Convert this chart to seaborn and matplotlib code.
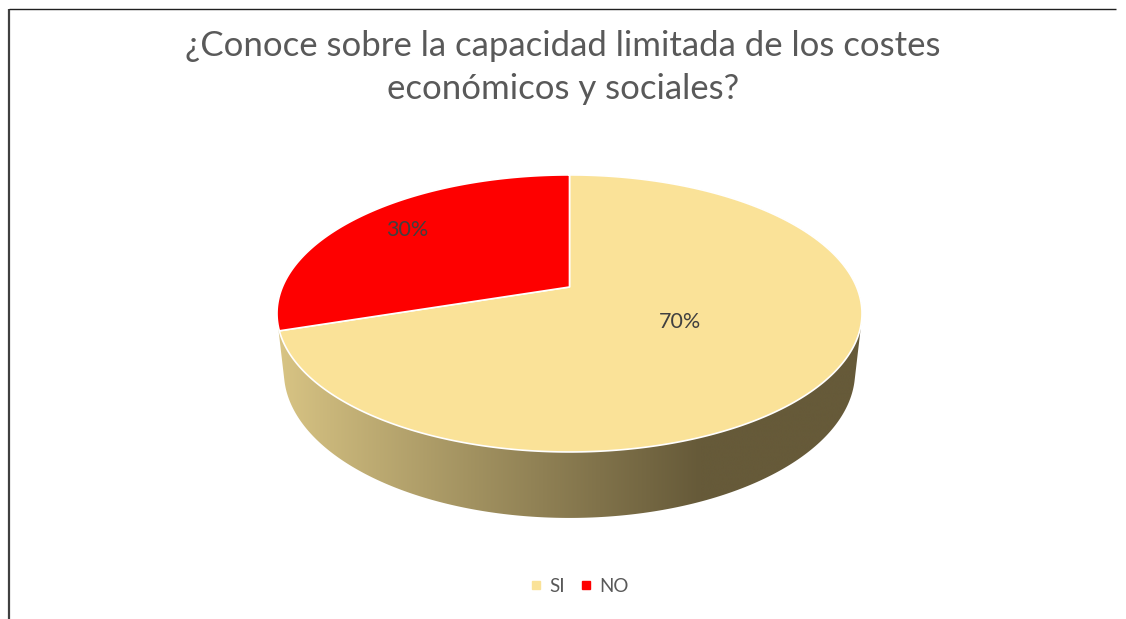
import numpy as np
import matplotlib
matplotlib.use("Agg")
import matplotlib.pyplot as plt
import seaborn as sns
from matplotlib.patches import Polygon
from matplotlib.lines import Line2D

# ---- data ----
categories = ["SI", "NO"]
values = [70, 30]
label_text = ["70%", "30%"]
title_lines = ["¿Conoce sobre la capacidad limitada de los costes",
               "económicos y sociales?"]

# ---- style ----
top_colors = ["#FAE298", "#FE0000"]
side_light = np.array([216, 196, 132]) / 255
side_dark = np.array([102, 90, 57]) / 255
text_gray = "#595959"

sns.set_theme(style="white")
plt.rcParams["font.family"] = ["Lato", "DejaVu Sans"]

W, H = 1126, 619
fig = plt.figure(figsize=(W / 100, H / 100), dpi=100)
ax = fig.add_axes([0, 0, 1, 1])
ax.set_xlim(0, W)
ax.set_ylim(H, 0)
ax.set_aspect("auto")
ax.axis("off")

# ---- perspective camera for the 3D pie ----
cx, cy = 569.5, 287.0
phi = np.deg2rad(27.7)
Ldist = 4.636
Fcam = 1331.0
thick = 0.231


def proj(X, Y, Z):
    depth = Ldist + Y * np.cos(phi) - Z * np.sin(phi)
    xs = cx + Fcam * X / depth
    ys = cy - Fcam * (Y * np.sin(phi) + Z * np.cos(phi)) / depth
    return xs, ys


t = np.linspace(0, 2 * np.pi, 720)
tx, ty = proj(np.cos(t), np.sin(t), 0.0)
bx, by = proj(np.cos(t), np.sin(t), -thick)


def hull(points):
    pts = sorted(map(tuple, points))

    def cross(o, a, b):
        return (a[0] - o[0]) * (b[1] - o[1]) - (a[1] - o[1]) * (b[0] - o[0])
    lower, upper = [], []
    for p in pts:
        while len(lower) >= 2 and cross(lower[-2], lower[-1], p) <= 0:
            lower.pop()
        lower.append(p)
    for p in reversed(pts):
        while len(upper) >= 2 and cross(upper[-2], upper[-1], p) <= 0:
            upper.pop()
        upper.append(p)
    return np.array(lower[:-1] + upper[:-1])


allpts = np.vstack([np.column_stack([tx, ty]), np.column_stack([bx, by])])
hp = hull(allpts)
side_patch = Polygon(hp, closed=True, facecolor="none", edgecolor="none")
ax.add_patch(side_patch)

x0, x1 = hp[:, 0].min(), hp[:, 0].max()
y0, y1 = hp[:, 1].min(), hp[:, 1].max()
gx = np.linspace(x0, x1, 600)
frac = np.clip((gx - 280) / (700 - 280), 0, 1)
frac = frac ** 0.95
grad = side_light[None, :] * (1 - frac[:, None]) + side_dark[None, :] * frac[:, None]
img = ax.imshow(grad[None, :, :], extent=(x0, x1, y1, y0), aspect="auto",
                interpolation="bilinear", zorder=1)
img.set_clip_path(side_patch)
ax.set_xlim(0, W)
ax.set_ylim(H, 0)

# ---- top face slices (clockwise from 12 o'clock) ----
total = float(sum(values))
start = 90.0
label_r = [0.45, 0.76]
for i, v in enumerate(values):
    sweep = 360.0 * v / total
    a = np.deg2rad(np.linspace(start, start - sweep, 400))
    sx, sy = proj(np.cos(a), np.sin(a), 0.0)
    ox, oy = proj(0.0, 0.0, 0.0)
    poly = np.column_stack([np.r_[ox, sx], np.r_[oy, sy]])
    ax.add_patch(Polygon(poly, closed=True, facecolor=top_colors[i],
                         edgecolor="white", linewidth=1.2, zorder=3,
                         joinstyle="round"))
    mid = np.deg2rad(start - sweep / 2)
    lx, ly = proj(label_r[i] * np.cos(mid), label_r[i] * np.sin(mid), 0.0)
    ax.text(lx, ly - 2, label_text[i], ha="center", va="center",
            fontsize=15.5, color="#404040", zorder=5)
    start -= sweep

# ---- title ----
ax.text(563, 46, title_lines[0], ha="center", va="center", fontsize=25,
        color=text_gray)
ax.text(563, 89, title_lines[1], ha="center", va="center", fontsize=25,
        color=text_gray)

# ---- legend ----
handles = [Line2D([], [], marker="s", linestyle="none", markersize=6,
                  markerfacecolor=c, markeredgecolor=c) for c in top_colors]
leg = ax.legend(handles, categories, loc="center",
                bbox_to_anchor=(580 / W, 1 - 586 / H), ncol=2, frameon=False,
                fontsize=13.5, handlelength=0.5, handletextpad=0.45,
                columnspacing=0.9, borderpad=0)
for txt in leg.get_texts():
    txt.set_color(text_gray)

# ---- chart frame (left and top edges) ----
ax.add_line(Line2D([9, 9], [9, H], color="#404040", linewidth=1.6,
                   solid_capstyle="butt"))
ax.add_line(Line2D([9, 1116], [9, 9], color="#202020", linewidth=1.0,
                   solid_capstyle="butt"))

fig.savefig("out.png", dpi=100)
